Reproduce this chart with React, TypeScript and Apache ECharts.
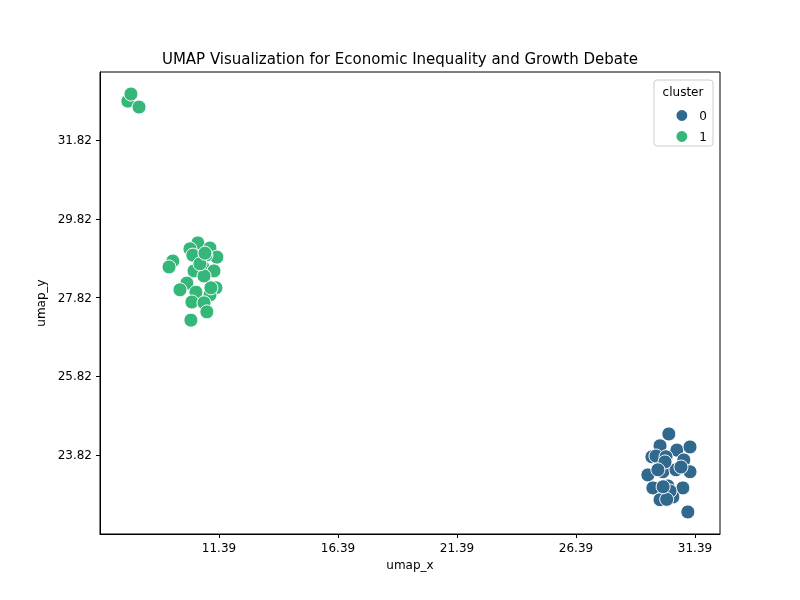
import React, { useEffect, useRef } from 'react';
import * as echarts from 'echarts';

const cluster0: [number, number][] = [
  [30.29, 24.36], [29.92, 24.06], [29.58, 23.78], [30.63, 23.95], [31.18, 24.03],
  [29.75, 23.8], [30.17, 23.78], [30.92, 23.7], [29.41, 23.32], [30.04, 23.4],
  [30.59, 23.45], [31.18, 23.4], [29.62, 22.99], [30.25, 23.04], [30.88, 22.99],
  [29.92, 22.69], [30.46, 22.76], [31.09, 22.38], [30.34, 22.91], [30.13, 23.65],
  [29.83, 23.45], [30.8, 23.52], [30.2, 22.7], [30.05, 23.02],
];
const cluster1: [number, number][] = [
  [7.56, 32.81], [7.69, 32.99], [8.03, 32.66],
  [10.5, 29.21], [11.01, 29.08], [10.17, 29.06], [11.3, 28.85], [9.45, 28.75],
  [9.29, 28.6], [10.29, 28.9], [10.84, 28.9], [10.71, 28.6], [11.18, 28.5],
  [10.34, 28.5], [10.04, 28.19], [9.75, 28.02], [10.76, 28.37], [11.26, 28.07],
  [11.01, 27.89], [10.42, 27.96], [10.25, 27.71], [10.76, 27.69], [11.05, 28.07],
  [10.88, 27.46], [10.21, 27.25], [10.59, 28.68], [10.8, 28.95],
];
const clusterNames = ['0', '1'];
const colors = ['#31688e', '#35b779'];

const App: React.FC = () => {
  const ref = useRef<HTMLDivElement>(null);
  useEffect(() => {
    if (!ref.current) return;
    const chart = echarts.init(ref.current, undefined, { renderer: 'svg' });
    const font = 'DejaVu Sans';
    const axisCommon = {
      axisLine: { show: true, onZero: false, lineStyle: { color: '#000' } },
      axisTick: { show: true, length: 4, lineStyle: { color: '#000' } },
      axisLabel: { color: '#000', fontSize: 12, fontFamily: font },
      splitLine: { show: false },
      nameLocation: 'middle' as const,
      nameTextStyle: { color: '#000', fontSize: 12, fontFamily: font },
    };
    chart.setOption({
      animation: false,
      title: {
        text: 'UMAP Visualization for Economic Inequality and Growth Debate',
        left: 'center', top: 46,
        textStyle: { fontSize: 15, fontWeight: 'normal', color: '#000', fontFamily: font },
      },
      grid: { left: 100, right: 80, top: 72, bottom: 66, show: true, borderColor: '#000', borderWidth: 1 },
      xAxis: {
        ...axisCommon, type: 'value', min: 6.39, max: 32.44, interval: 5,
        name: 'umap_x', nameGap: 22,
        axisLabel: { ...axisCommon.axisLabel, showMinLabel: false, showMaxLabel: false },
      },
      yAxis: {
        ...axisCommon, type: 'value', min: 21.82, max: 33.55, interval: 2,
        name: 'umap_y', nameGap: 32,
        axisLabel: { ...axisCommon.axisLabel, showMinLabel: false, showMaxLabel: false },
      },
      legend: {
        data: clusterNames, orient: 'vertical', right: 88, top: 103, itemGap: 6,
        icon: 'circle', itemWidth: 13, itemHeight: 13,
        textStyle: { fontSize: 12, fontFamily: font, color: '#000', padding: [0, 0, 0, 6] },
      },
      graphic: [
        { type: 'rect', shape: { x: 654, y: 80, width: 59, height: 66, r: 3 }, style: { fill: 'rgba(255,255,255,0.8)', stroke: '#ccc' }, z: -1 },
        { type: 'text', x: 683, y: 92, style: { text: 'cluster', fontSize: 12, fontFamily: font, fill: '#000', align: 'center', verticalAlign: 'middle' } },
      ],
      series: [cluster0, cluster1].map((d, i) => ({
        name: clusterNames[i], type: 'scatter', data: d, symbolSize: 14,
        itemStyle: { color: colors[i], borderColor: '#fff', borderWidth: 1, opacity: 1 },
      })),
    });
    return () => chart.dispose();
  }, []);
  return <div ref={ref} style={{ position: 'fixed', left: 0, top: 0, width: 800, height: 600 }} />;
};

export default App;
